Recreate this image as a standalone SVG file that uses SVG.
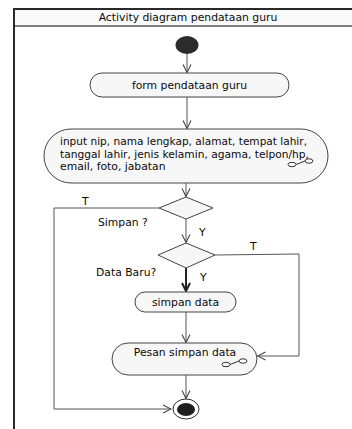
<svg xmlns="http://www.w3.org/2000/svg" width="352" height="429" viewBox="0 0 352 429">
  <defs>
    <style>
      text { font-family: "DejaVu Sans", Verdana, sans-serif; font-size: 10.8px; fill: #0a0a0a; }
      .node { fill: #f7f7f7; stroke: #444; stroke-width: 1; }
      .flow { fill: none; stroke: #555; stroke-width: 1; }
      .icon { fill: #fff; stroke: #333; stroke-width: 1; }
    </style>
    <marker id="open" viewBox="0 0 10 10" refX="9" refY="5" markerWidth="10" markerHeight="10" markerUnits="userSpaceOnUse" orient="auto">
      <path d="M1,1 L9,5 L1,9" fill="none" stroke="#444" stroke-width="1.1"/>
    </marker>
    <marker id="openBold" viewBox="0 0 10 10" refX="9" refY="5" markerWidth="10" markerHeight="10" markerUnits="userSpaceOnUse" orient="auto">
      <path d="M1,1 L9,5 L1,9" fill="none" stroke="#222" stroke-width="2"/>
    </marker>
  </defs>

  <rect width="352" height="429" fill="#fff"/>

  <!-- frame -->
  <g id="frame">
    <rect x="14" y="9" width="350" height="430" fill="#fff" stroke="#2a2a2a" stroke-width="2"/>
    <rect x="15" y="10" width="337" height="15.5" fill="#fafafa"/>
    <line x1="15" y1="26" x2="352" y2="26" stroke="#555" stroke-width="1.5"/>
    <text x="188" y="21" text-anchor="middle">Activity diagram pendataan guru</text>
  </g>

  <!-- connectors -->
  <g id="connectors">
    <line class="flow" x1="187" y1="54" x2="187" y2="72.5" marker-end="url(#open)"/>
    <line class="flow" x1="187" y1="97" x2="187" y2="128.5" marker-end="url(#open)"/>
    <line class="flow" x1="186" y1="183" x2="186" y2="196.5" marker-end="url(#open)"/>
    <polyline class="flow" points="159,208 54,208 54,409 171,409" marker-end="url(#open)"/>
    <line class="flow" x1="186" y1="219" x2="186" y2="242.5" marker-end="url(#open)"/>
    <polyline class="flow" points="215,255 299,254 299,356 257.5,356" marker-end="url(#open)"/>
    <line x1="186" y1="268" x2="186" y2="291" fill="none" stroke="#222" stroke-width="2" marker-end="url(#openBold)"/>
    <line class="flow" x1="186" y1="312" x2="186" y2="342.5" marker-end="url(#open)"/>
    <line class="flow" x1="186" y1="375" x2="186" y2="398.5" marker-end="url(#open)"/>
    <text x="82" y="205">T</text>
    <text x="199" y="236">Y</text>
    <text x="250" y="250">T</text>
    <text x="200" y="281">Y</text>
  </g>

  <g id="start">
    <ellipse cx="187" cy="45" rx="11.5" ry="9" fill="#2b2b2b"/>
  </g>

  <g id="form-pendataan">
    <rect class="node" x="90" y="73" width="199" height="24" rx="12" ry="12"/>
    <text x="189.5" y="89" text-anchor="middle">form pendataan guru</text>
  </g>

  <g id="input-data">
    <rect class="node" x="44" y="129" width="284" height="54" rx="27" ry="27"/>
    <text x="60" y="145" textLength="247" lengthAdjust="spacingAndGlyphs">input nip, nama lengkap, alamat, tempat lahir,</text>
    <text x="60" y="157.5" textLength="249" lengthAdjust="spacingAndGlyphs">tanggal lahir, jenis kelamin, agama, telpon/hp,</text>
    <text x="60" y="170">email, foto, jabatan</text>
    <line x1="296" y1="164.5" x2="305" y2="161" stroke="#333"/>
    <ellipse class="icon" cx="292" cy="164.5" rx="4" ry="2.2"/>
    <ellipse class="icon" cx="309" cy="161" rx="4" ry="2.2"/>
  </g>

  <g id="simpan-decision">
    <polygon class="node" points="186,197 213,208 186,219 159,208"/>
    <text x="98" y="226">Simpan ?</text>
  </g>

  <g id="databaru-decision">
    <polygon class="node" points="186,243 215,255 186,268 158,255"/>
    <text x="96" y="276">Data Baru?</text>
  </g>

  <g id="simpan-data">
    <rect class="node" x="135" y="292" width="101" height="20" rx="10" ry="10"/>
    <text x="185.5" y="306" text-anchor="middle">simpan data</text>
  </g>

  <g id="pesan-simpan">
    <rect class="node" x="112" y="343" width="145" height="32" rx="16" ry="16"/>
    <text x="185" y="356" text-anchor="middle">Pesan simpan data</text>
    <line x1="230" y1="364.5" x2="239" y2="361" stroke="#333"/>
    <ellipse class="icon" cx="226" cy="364.5" rx="4" ry="2.2"/>
    <ellipse class="icon" cx="243" cy="361" rx="4" ry="2.2"/>
  </g>

  <g id="end">
    <ellipse cx="186" cy="409" rx="13" ry="10" fill="#fff" stroke="#333" stroke-width="1"/>
    <ellipse cx="186" cy="409.5" rx="9" ry="6.5" fill="#1e1e1e"/>
  </g>
</svg>
